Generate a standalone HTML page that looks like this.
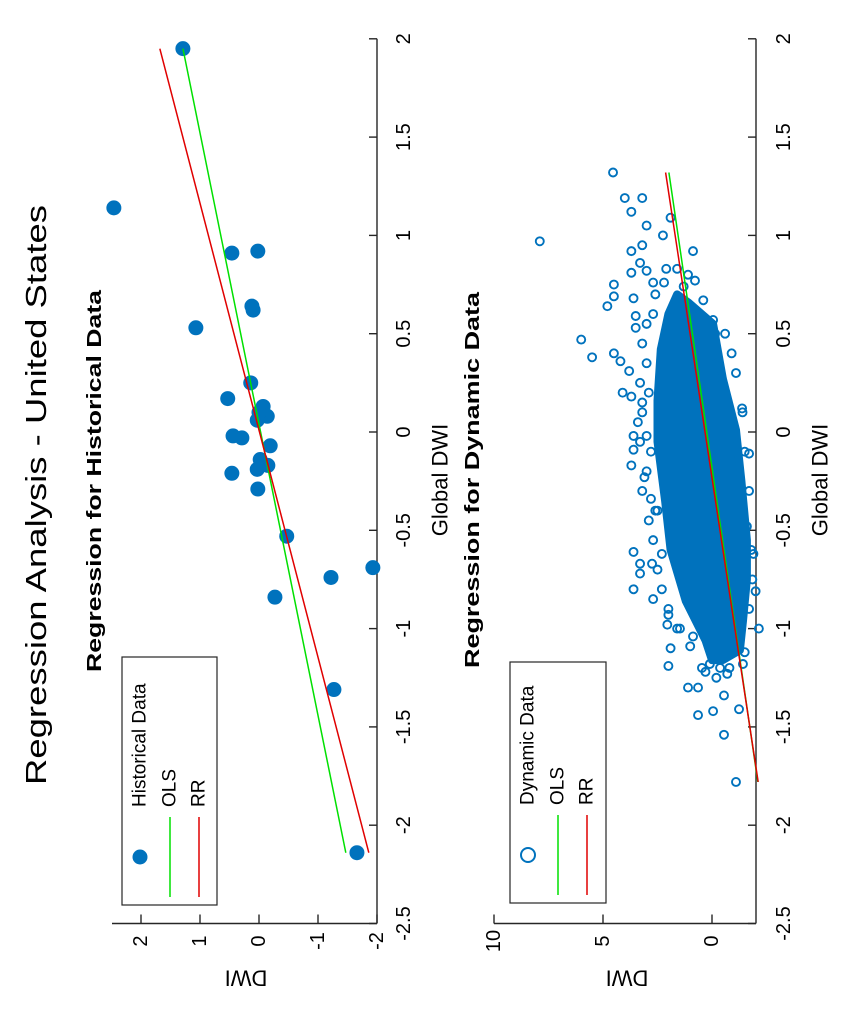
<!DOCTYPE html>
<html><head><meta charset="utf-8">
<style>
html,body{margin:0;padding:0;background:#fff;}
svg{display:block;font-family:"Liberation Sans",Arial,sans-serif;}
</style></head>
<body>
<svg id="fig" width="853" height="1023" viewBox="0 0 853 1023" xmlns="http://www.w3.org/2000/svg">
<rect width="853" height="1023" fill="#fff"/>
<g id="root"></g>
</svg>
<script>
// ---- Data: historical panel ----
const histX = [1.95,1.14,0.91,0.92,0.62,0.53,0.25,0.17,0.13,0.08,0.06,-0.02,-0.03,-0.07,-0.14,-0.17,-0.19,-0.21,-0.29,-0.53,-0.69,-0.74,-0.84,-1.31,-2.14,0.64,0.10];
const histY = [1.29,2.46,0.46,0.02,0.10,1.07,0.14,0.53,-0.07,-0.14,0.03,0.44,0.29,-0.19,-0.02,-0.15,0.03,0.46,0.02,-0.47,-1.93,-1.22,-0.27,-1.27,-1.66,0.12,0.0];
const histOLS = [0.675,-0.027]; // slope, intercept
const histRR = [0.866,-0.008];
const histRange = [-2.14,1.95];
// ---- Data: dynamic panel (sparse points) ----
const dynX = [1.32,0.97,1.19,1.19,1.12,1.05,1.09,1.0,0.95,0.92,0.92,0.47,0.38,0.64,0.69,0.75,0.40,0.36,0.31,0.20,0.18,0.68,0.81,0.86,0.82,0.76,0.76,0.83,0.83,0.80,0.77,0.74,0.59,0.53,0.67,0.57,0.50,0.38,0.28,0.12,-0.11,-0.02,-0.09,-0.17,0.05,-0.23,-0.34,-0.40,0.15,-0.02,-0.41,-0.48,-0.61,-0.67,-0.72,-0.80,-0.67,-0.85,-0.62,-0.93,-0.98,-1.1,-1.19,-1.3,-1.30,-1.44,-1.42,-1.34,-1.54,-1.41,-1.78,-1.23,-1.2,-1.18,-1.2,-1.0,-0.81,-0.62,-1.09,-1.0,-1.04,-1.18,-1.12,
  0.55,0.45,0.35,0.25,0.10,-0.05,-0.20,-0.30,-0.45,-0.55,-0.70,-0.80,-0.90,-1.00,0.70,0.60,0.20,-0.10,-0.40,0.50,0.30,0.10,-0.10,-0.30,-0.60,-0.90,0.40,-0.75,-1.20,-1.25,-1.22];
const dynY = [4.54,7.9,4.0,3.2,3.7,3.0,1.9,2.25,3.2,3.7,0.87,6.0,5.5,4.8,4.5,4.5,4.5,4.2,3.8,4.1,3.7,3.6,3.7,3.3,3.0,2.7,2.2,2.1,1.6,1.1,0.78,1.3,3.5,3.5,0.4,-0.05,-0.14,-0.2,-0.37,-1.38,-1.7,3.6,3.6,3.7,3.4,3.1,2.8,2.5,3.2,3.0,-1.28,-1.6,3.6,3.3,3.3,3.6,2.75,2.7,2.3,2.0,2.05,1.9,2.0,1.1,0.64,0.64,-0.05,-0.55,-0.55,-1.24,-1.1,-0.7,0.46,0.1,-0.37,-2.15,-2.0,-1.9,1.0,1.47,0.87,-1.42,-1.5,
  3.0,3.2,3.0,3.3,3.2,3.3,3.0,3.2,2.9,2.7,2.5,2.3,2.0,1.6,2.6,2.7,2.9,2.8,2.6,-0.6,-1.1,-1.4,-1.5,-1.7,-1.8,-1.7,-0.9,-1.85,-0.8,-0.2,0.3];
// dense core outline of the cloud (Global DWI, DWI)
const coreX = [0.70,0.66,0.55,0.27,0.01,-0.25,-0.55,-0.75,-0.96,-1.11,-1.16,-1.16,-1.06,-0.86,-0.60,-0.35,-0.05,0.16,0.42,0.60];
const coreY = [1.6,1.1,-0.05,-0.5,-1.1,-1.35,-1.6,-1.6,-1.42,-1.28,-0.5,0.0,0.3,1.2,1.9,2.15,2.5,2.5,2.35,2.0];
const dynOLS = [1.316,0.24];
const dynRR = [1.37,0.32];
const dynRange = [-1.78,1.32];
// ticks
const gTicks = [2,1.5,1,0.5,0,-0.5,-1,-1.5,-2,-2.5];
const gTickLabels = ["2","1.5","1","0.5","0","-0.5","-1","-1.5","-2","-2.5"];
const histYTicks = [2,1,0,-1,-2];
const histYTickLabels = ["2","1","0","-1","-2"];
const dynYTicks = [10,5,0];
const dynYTickLabels = ["10","5","0"];

const NS="http://www.w3.org/2000/svg";
const root=document.getElementById('root');
function mk(tag,attrs,parent){const e=document.createElementNS(NS,tag);for(const k in attrs)e.setAttribute(k,attrs[k]);(parent||root).appendChild(e);return e;}
function gy(v){return 432 - v*196.6;}
function hx(v){return 259 - v*59;}
function dx(v){return 712 - v*21.8;}
function rtext(str,x,y,size,rot,weight,len){
  const t=mk('text',{x:0,y:0,'font-size':size,'text-anchor':'middle','dominant-baseline':'central',fill:'#000',transform:`translate(${x},${y}) rotate(${rot})`});
  if(weight)t.setAttribute('font-weight',weight);
  if(len){t.setAttribute('textLength',len);t.setAttribute('lengthAdjust','spacingAndGlyphs');}
  t.textContent=str;return t;
}

let t=rtext('Regression Analysis - United States',37,495,29,-90,null,580);


t=rtext('Regression for Historical Data',95,481,20,-90,'bold',382);


t=rtext('Regression for Dynamic Data',473,480,20,-90,'bold',376);



function panel(pname,xf,yTicks,yLabels,left,right,labelX,dwiX){
  const g=mk('g',{});
  
  
  const a1=mk('line',{x1:right,y1:gy(2),x2:right,y2:gy(-2.5),stroke:'#262626','stroke-width':1.4},g);
  
  
  const a2=mk('line',{x1:left,y1:gy(-2.5),x2:right,y2:gy(-2.5),stroke:'#262626','stroke-width':1.4},g);
  
  
  gTicks.forEach((v,i)=>{
    const y=gy(v);
    const tk=mk('line',{x1:right,y1:y,x2:right-8,y2:y,stroke:'#262626','stroke-width':1.4},g);
    
    
    const lb=rtext(gTickLabels[i],labelX,y,20,-90);
    
    
  });
  yTicks.forEach((v,i)=>{
    const x=xf(v);
    const tk=mk('line',{x1:x,y1:gy(-2.5),x2:x,y2:gy(-2.5)-9,stroke:'#262626','stroke-width':1.4},g);
    
    
    const lb=rtext(yLabels[i],x,941,20,-90);
    
    
  });
  let l=rtext('Global DWI',labelX+36,480,22,-90);
  
  
  l=rtext('DWI',dwiX,978,22,180);
  
  
}
panel('historical',hx,histYTicks,histYTickLabels,112,377,404,246);
panel('dynamic',dx,dynYTicks,dynYTickLabels,494,756,784,627);

histX.forEach((v,i)=>{
  const c=mk('circle',{cx:hx(histY[i]),cy:gy(v),r:7.5,fill:'#0072BD'});
  
  
});
function fitLine(coef,rng,xf,color,name){
  const l=mk('line',{x1:xf(coef[0]*rng[0]+coef[1]),y1:gy(rng[0]),x2:xf(coef[0]*rng[1]+coef[1]),y2:gy(rng[1]),stroke:color,'stroke-width':1.5});
  
  
}
fitLine(histOLS,histRange,hx,'#00E000','historical-ols-line');
fitLine(histRR,histRange,hx,'#E00000','historical-rr-line');

const pts=coreX.map((v,i)=>dx(coreY[i]).toFixed(1)+','+gy(v).toFixed(1)).join(' ');
const core=mk('polygon',{points:pts,fill:'#0072BD',stroke:'#0072BD','stroke-width':8,'stroke-linejoin':'round'});


dynX.forEach((v,i)=>{
  const c=mk('circle',{cx:dx(dynY[i]),cy:gy(v),r:4,fill:'none',stroke:'#0072BD','stroke-width':1.9});
  
  
});
fitLine(dynOLS,dynRange,dx,'#00E000','dynamic-ols-line');
fitLine(dynRR,dynRange,dx,'#E00000','dynamic-rr-line');

function legend(name,x0,x1,y0,y1,filled,first){
  const g=mk('g',{});
  
  
  mk('rect',{x:x0,y:y0,width:x1-x0,height:y1-y0,fill:'#fff',stroke:'#262626','stroke-width':1.2},g);
  const cols=[x0+18,x0+48,x0+77];
  const m=filled?mk('circle',{cx:cols[0],cy:y1-48,r:7.5,fill:'#0072BD'},g):mk('circle',{cx:cols[0],cy:y1-48,r:7,fill:'none',stroke:'#0072BD','stroke-width':2},g);
  
  
  const lg=mk('line',{x1:cols[1],y1:y1-88,x2:cols[1],y2:y1-8,stroke:'#00E000','stroke-width':1.5},g);
  
  
  const lr=mk('line',{x1:cols[2],y1:y1-88,x2:cols[2],y2:y1-8,stroke:'#E00000','stroke-width':1.5},g);
  
  
  [first,'OLS','RR'].forEach((s,i)=>{
    const tx=mk('text',{x:0,y:0,'font-size':19,'dominant-baseline':'central',fill:'#000',transform:`translate(${cols[i]},${y1-98}) rotate(-90)`},g);
    tx.textContent=s;
    
    
  });
}
legend('historical-legend',122,217,657,905,true,'Historical Data');
legend('dynamic-legend',510,606,662,903,false,'Dynamic Data');
</script>
</body></html>
